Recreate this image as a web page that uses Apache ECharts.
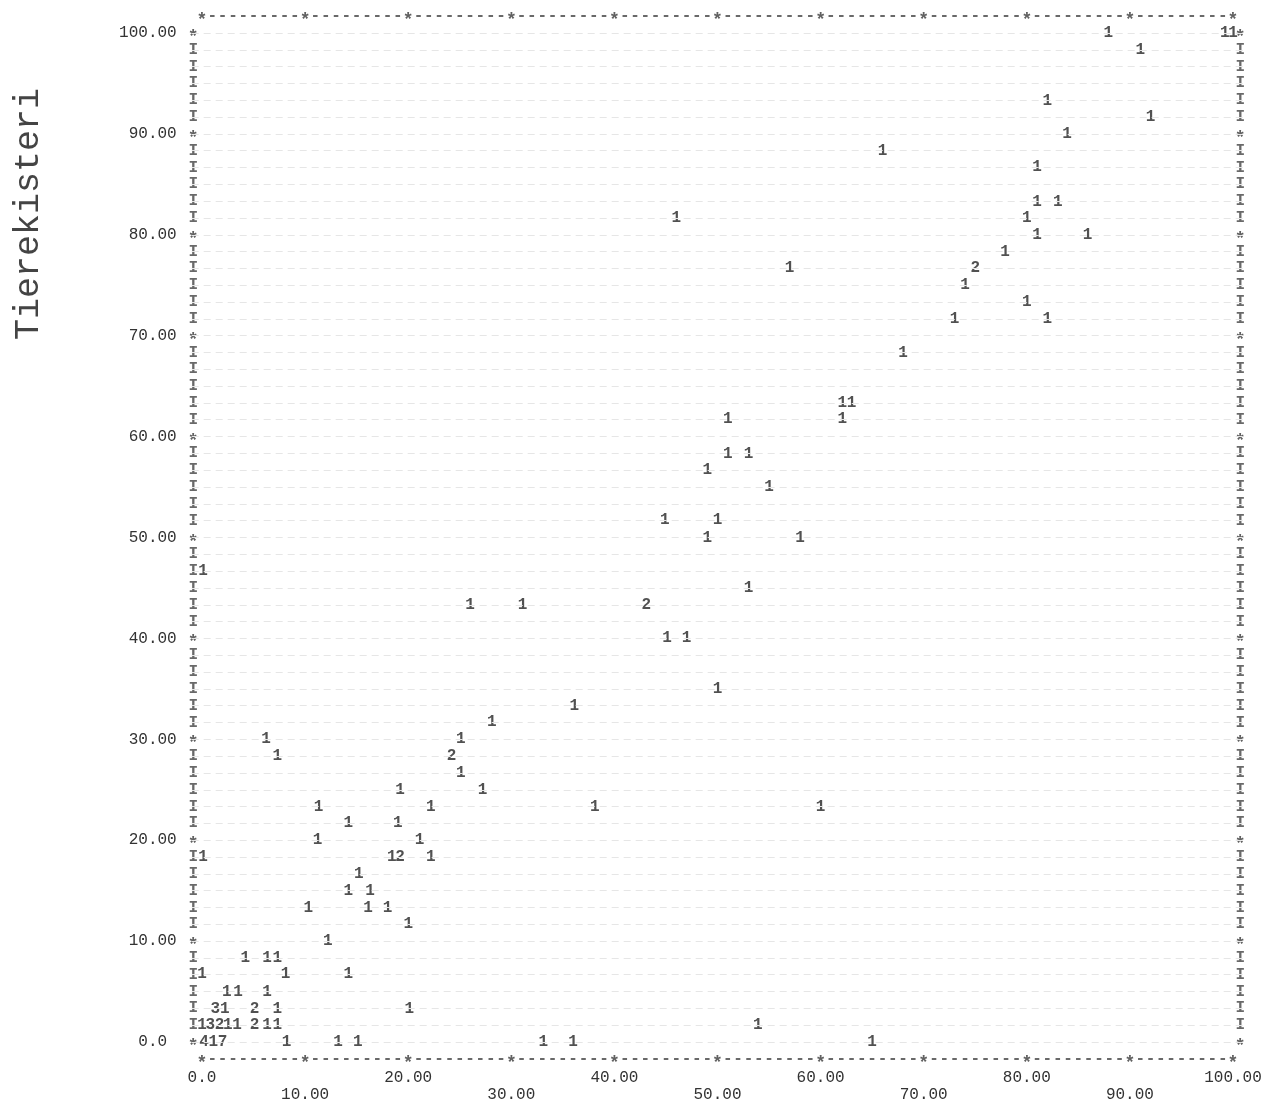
<!DOCTYPE html>
<html><head><meta charset="utf-8">
<script src="https://cdn.jsdelivr.net/npm/echarts@6/dist/echarts.min.js"></script>
<style>html,body{margin:0;padding:0;background:#fff}#c{width:1276px;height:1106px}</style>
</head><body><div id="c"></div>
<script>
// ---- data ----
const pointX = [
  87.9, 99.2, 100.0,
  91.0,
  82.0,
  92.0,
  83.9,
  66.0,
  81.0,
  81.0, 83.0,
  46.0, 80.0,
  81.0, 85.9,
  77.9,
  57.0, 75.0,
  74.0,
  80.0,
  73.0, 82.0,
  68.0,
  62.1, 63.0,
  51.0, 62.1,
  51.0, 53.0,
  49.0,
  55.0,
  44.9, 50.0,
  49.0, 58.0,
  0.1,
  53.0,
  26.0, 31.1, 43.1,
  45.1, 47.0,
  50.0,
  36.1,
  28.1,
  6.2, 25.1,
  7.3, 24.2,
  25.1,
  19.2, 27.2,
  11.3, 22.2, 38.1, 60.0,
  14.2, 19.0,
  11.2, 21.1,
  0.1, 18.4, 19.2, 22.2,
  15.2,
  14.2, 16.3,
  10.3, 16.1, 18.0,
  20.0,
  12.2,
  4.2, 6.3, 7.3,
  0.0, 8.1, 14.2,
  2.4, 3.5, 6.3,
  1.3, 2.2, 5.1, 7.3, 20.1,
  0.0, 0.8, 1.7, 2.5, 3.4, 5.1, 6.3, 7.3, 53.9,
  0.2, 1.1, 2.0, 8.2, 13.2, 15.1, 33.1, 36.0, 65.0
];
const pointY = [
  100.0, 100.0, 100.0,
  98.3,
  93.3,
  91.7,
  90.0,
  88.3,
  86.7,
  83.3, 83.3,
  81.7, 81.7,
  80.0, 80.0,
  78.3,
  76.7, 76.7,
  75.0,
  73.3,
  71.7, 71.7,
  68.3,
  63.3, 63.3,
  61.7, 61.7,
  58.3, 58.3,
  56.7,
  55.0,
  51.7, 51.7,
  50.0, 50.0,
  46.7,
  45.0,
  43.3, 43.3, 43.3,
  40.0, 40.0,
  35.0,
  33.3,
  31.7,
  30.0, 30.0,
  28.3, 28.3,
  26.7,
  25.0, 25.0,
  23.3, 23.3, 23.3, 23.3,
  21.7, 21.7,
  20.0, 20.0,
  18.3, 18.3, 18.3, 18.3,
  16.7,
  15.0, 15.0,
  13.3, 13.3, 13.3,
  11.7,
  10.0,
  8.3, 8.3, 8.3,
  6.7, 6.7, 6.7,
  5.0, 5.0, 5.0,
  3.3, 3.3, 3.3, 3.3, 3.3,
  1.7, 1.7, 1.7, 1.7, 1.7, 1.7, 1.7, 1.7, 1.7,
  0.0, 0.0, 0.0, 0.0, 0.0, 0.0, 0.0, 0.0, 0.0
];
const pointCount = [
  '1','1','1',
  '1',
  '1',
  '1',
  '1',
  '1',
  '1',
  '1','1',
  '1','1',
  '1','1',
  '1',
  '1','2',
  '1',
  '1',
  '1','1',
  '1',
  '1','1',
  '1','1',
  '1','1',
  '1',
  '1',
  '1','1',
  '1','1',
  '1',
  '1',
  '1','1','2',
  '1','1',
  '1',
  '1',
  '1',
  '1','1',
  '1','2',
  '1',
  '1','1',
  '1','1','1','1',
  '1','1',
  '1','1',
  '1','1','2','1',
  '1',
  '1','1',
  '1','1','1',
  '1',
  '1',
  '1','1','1',
  '1','1','1',
  '1','1','1',
  '3','1','2','1','1',
  '1','3','2','1','1','2','1','1','1',
  '4','1','7','1','1','1','1','1','1'
];
const xTickValues = [0, 10, 20, 30, 40, 50, 60, 70, 80, 90, 100];
const xTickLabels = ['0.0', '10.00', '20.00', '30.00', '40.00', '50.00', '60.00', '70.00', '80.00', '90.00', '100.00'];
const yTickValues = [0, 10, 20, 30, 40, 50, 60, 70, 80, 90, 100];
const yTickLabels = ['0.0', '10.00', '20.00', '30.00', '40.00', '50.00', '60.00', '70.00', '80.00', '90.00', '100.00'];
const yTitle = 'Tierekisteri';

// ---- printer frame built from the tick arrays ----
const ROWS_PER_TICK = 6, COLS_PER_TICK = 10;
const rowStep = (yTickValues[1] - yTickValues[0]) / ROWS_PER_TICK;
const colStep = (xTickValues[1] - xTickValues[0]) / COLS_PER_TICK;
const yMaxV = yTickValues[yTickValues.length - 1], xMaxV = xTickValues[xTickValues.length - 1];
const frame = [];
const rowLines = [];
const nRows = Math.round(yMaxV / rowStep), nCols = Math.round(xMaxV / colStep);
for (let k = 0; k <= nRows; k++) {
  const ch = (k % ROWS_PER_TICK === 0) ? '*' : 'I';
  frame.push([-0.85, k * rowStep, ch]);
  frame.push([xMaxV + 0.7, k * rowStep, ch]);
  rowLines.push({yAxis: k * rowStep});
}
for (let c = 0; c <= nCols; c++) {
  const ch = (c % COLS_PER_TICK === 0) ? '*' : '-';
  frame.push([c * colStep, yMaxV + rowStep, ch]);
  frame.push([c * colStep, -rowStep, ch]);
}
const points = pointX.map((x, i) => [x, pointY[i], pointCount[i]]);

const MONO = '"Liberation Mono", "DejaVu Sans Mono", monospace';
const chart = echarts.init(document.getElementById('c'), null, {renderer: 'canvas'});
chart.setOption({
  animation: false,
  backgroundColor: '#ffffff',
  grid: {left: 191.7, top: 12.8, width: 1051.6, height: 1049.4, containLabel: false},
  xAxis: {
    type: 'value', min: -1, max: 101,
    axisLine: {show: false}, axisTick: {show: false}, splitLine: {show: false},
    axisLabel: {
      customValues: xTickValues,
      margin: 7,
      fontFamily: MONO, fontSize: 16, lineHeight: 17, color: '#333',
      formatter: function (v) {
        const i = xTickValues.indexOf(v);
        if (i < 0) return '';
        return (i % 2 === 1 ? '\n' : '') + xTickLabels[i];
      }
    }
  },
  yAxis: {
    type: 'value', min: -2, max: 102,
    axisLine: {show: false}, axisTick: {show: false}, splitLine: {show: false},
    axisLabel: {
      customValues: yTickValues,
      margin: 15,
      fontFamily: MONO, fontSize: 16, color: '#333',
      formatter: function (v) {
        const i = yTickValues.indexOf(v);
        if (i < 0) return '';
        return yTickLabels[i] + (yTickLabels[i].length < 4 ? '\u00a0' : '');
      }
    }
  },
  graphic: [{
    type: 'text', x: 29, y: 214, rotation: Math.PI / 2,
    style: {text: yTitle, font: '35px ' + MONO, fill: '#444', textAlign: 'center', textVerticalAlign: 'middle'}
  }],
  series: [
    {
      type: 'scatter', data: frame, symbolSize: 1, silent: true, z: 3,
      itemStyle: {color: 'rgba(0,0,0,0)'},
      label: {show: true, position: 'inside',
        formatter: p => p.value[2] === '*' ? '{s|*}' : p.value[2],
        fontFamily: MONO, fontSize: 16, fontWeight: 'bold', color: '#444',
        rich: {s: {fontFamily: MONO, fontSize: 18, fontWeight: 'bold', color: '#3a3a3a', padding: [9, 0, 0, 0]}}},
      markLine: {
        silent: true, symbol: 'none', animation: false,
        label: {show: false},
        lineStyle: {type: [7, 5], color: '#e6e6e6', width: 1},
        data: rowLines
      }
    },
    {
      type: 'scatter', data: points, symbolSize: 1, silent: true, z: 4,
      itemStyle: {color: 'rgba(0,0,0,0)'},
      label: {show: true, position: 'inside', formatter: p => p.value[2],
        fontFamily: MONO, fontSize: 16, fontWeight: 'bold', color: '#262626'}
    }
  ]
});
</script></body></html>
